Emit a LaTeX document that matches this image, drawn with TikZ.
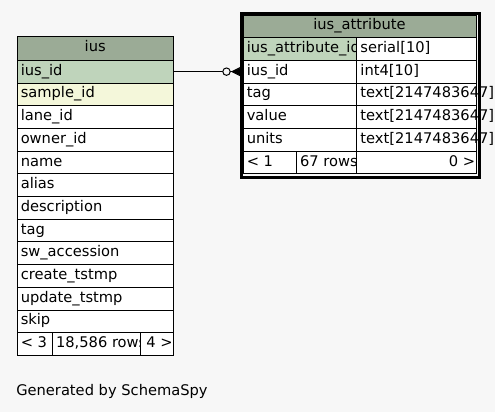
\documentclass[tikz,border=0pt]{standalone}
\usepackage{fontspec}
\setmainfont{DejaVu Sans}
\usetikzlibrary{calc}

\definecolor{pagebg}{HTML}{F7F7F7}
\definecolor{headbg}{HTML}{9BAB96}
\definecolor{pkbg}{HTML}{BFD4BB}
\definecolor{idxbg}{HTML}{F4F7DA}

\tikzset{
  cellbox/.style={draw=black, line width=0.75pt, inner sep=0pt, outer sep=0pt, anchor=north west},
  celltext/.style={inner sep=0pt, font=\fontsize{11}{13}\selectfont, text=black},
  relline/.style={draw=black, line width=0.75pt},
  focusframe/.style={draw=black, line width=2.25pt},
}

% cell box: name, x, y, width, height, fill
\newcommand\cellbox[6]{%
  \node[cellbox, fill=#6, minimum width={#4*0.75pt}, minimum height={#5*0.75pt}] (#1) at (#2,#3) {};}
% left-aligned text, clipped to its cell
\newcommand\cellL[7]{%
  \cellbox{#1}{#2}{#3}{#4}{#5}{#6}%
  \begin{scope}
    \clip (#1.south west) rectangle (#1.north east);
    \node[celltext, anchor=base west] (#1-txt) at ($(#1.west)+(3.5,3.6)$) {#7};
  \end{scope}}
% left-aligned text, free to run past the cell
\newcommand\cellU[7]{%
  \cellbox{#1}{#2}{#3}{#4}{#5}{#6}%
  \node[celltext, anchor=base west] (#1-txt) at ($(#1.west)+(3.5,3.6)$) {#7};}
% right-aligned text
\newcommand\cellR[7]{%
  \cellbox{#1}{#2}{#3}{#4}{#5}{#6}%
  \node[celltext, anchor=base east] (#1-txt) at ($(#1.east)+(-0.5,3.6)$) {#7};}
% centred text
\newcommand\cellC[7]{%
  \cellbox{#1}{#2}{#3}{#4}{#5}{#6}%
  \node[celltext, anchor=base] (#1-txt) at ($(#1.center)+(0,3.6)$) {#7};}

\begin{document}
\begin{tikzpicture}[x=0.75pt,y=-0.75pt]
  \fill[pagebg] (0,0) rectangle (495,412);
  \useasboundingbox (0,0) rectangle (495,412);

  % ---- table ius ----
  \cellC{ius-head}{17}{36}{156.5}{24.3}{headbg}{ius}
  \cellL{ius-iusid}{17}{60.3}{156.5}{22.7}{pkbg}{ius\_id}
  \cellL{ius-sample}{17}{83.0}{156.5}{22.7}{idxbg}{sample\_id}
  \cellL{ius-lane}{17}{105.7}{156.5}{22.7}{white}{lane\_id}
  \cellL{ius-owner}{17}{128.4}{156.5}{22.7}{white}{owner\_id}
  \cellL{ius-name}{17}{151.1}{156.5}{22.7}{white}{name}
  \cellL{ius-alias}{17}{173.8}{156.5}{22.7}{white}{alias}
  \cellL{ius-descr}{17}{196.5}{156.5}{22.7}{white}{description}
  \cellL{ius-tag}{17}{219.2}{156.5}{22.7}{white}{tag}
  \cellL{ius-swacc}{17}{241.9}{156.5}{22.7}{white}{sw\_accession}
  \cellL{ius-create}{17}{264.6}{156.5}{22.7}{white}{create\_tstmp}
  \cellL{ius-update}{17}{287.3}{156.5}{22.7}{white}{update\_tstmp}
  \cellL{ius-skip}{17}{310.0}{156.5}{22.7}{white}{skip}
  \cellL{ius-foot1}{17}{332.7}{35.3}{22.7}{white}{< 3}
  \cellL{ius-foot2}{52.3}{332.7}{88}{22.7}{white}{18,586 rows}
  \cellR{ius-foot3}{140.3}{332.7}{33.2}{22.7}{white}{4 >}

  % ---- table ius_attribute ----
  \cellC{attr-head}{243}{15}{233}{22.6}{headbg}{ius\_attribute}
  \cellL{attr-id}{243}{37.6}{113.7}{22.7}{pkbg}{ius\_attribute\_id}
  \cellU{attr-id-type}{356.7}{37.6}{119.3}{22.7}{white}{serial[10]}
  \cellL{attr-iusid}{243}{60.3}{113.7}{22.7}{white}{ius\_id}
  \cellU{attr-iusid-type}{356.7}{60.3}{119.3}{22.7}{white}{int4[10]}
  \cellL{attr-tag}{243}{83.0}{113.7}{22.7}{white}{tag}
  \cellU{attr-tag-type}{356.7}{83.0}{119.3}{22.7}{white}{text[2147483647]}
  \cellL{attr-value}{243}{105.7}{113.7}{22.7}{white}{value}
  \cellU{attr-value-type}{356.7}{105.7}{119.3}{22.7}{white}{text[2147483647]}
  \cellL{attr-units}{243}{128.4}{113.7}{22.7}{white}{units}
  \cellU{attr-units-type}{356.7}{128.4}{119.3}{22.7}{white}{text[2147483647]}
  \cellL{attr-foot1}{243}{151.1}{53.3}{22.7}{white}{< 1}
  \cellL{attr-foot2}{296.3}{151.1}{60.4}{22.7}{white}{67 rows}
  \cellR{attr-foot3}{356.7}{151.1}{119.3}{22.7}{white}{0 >}

  % heavy frame round the focused table
  \draw[focusframe] ($(attr-head.north west)+(-1.5,-1.5)$) rectangle ($(attr-foot3.south east)+(3,3.3)$);

  % ---- relationship ius.ius_id -> ius_attribute.ius_id ----
  \coordinate (odot) at ($(attr-iusid.west)+(-16.5,0)$);
  \draw[relline] (ius-iusid.east) -- ($(odot)+(-3.7,0)$);
  \draw[relline] ($(odot)+(3.7,0)$) -- ($(attr-iusid.west)+(-3,0)$);
  \draw[relline, fill=pagebg] (odot) circle (3.7);
  \fill[black] ($(attr-iusid.west)+(-11,0)$) -- ($(attr-iusid.west)+(-2,-4)$) -- ($(attr-iusid.west)+(-2,4)$) -- cycle;
  \draw[relline] ($(attr-iusid.west)+(-11,0)$) -- ($(attr-iusid.west)+(-2,-4.5)$);
  \draw[relline] ($(attr-iusid.west)+(-11,0)$) -- ($(attr-iusid.west)+(-2,4.5)$);

  % ---- credit line ----
  \node[celltext, anchor=base west] (credit) at (16,395) {Generated by SchemaSpy};
\end{tikzpicture}
\end{document}
